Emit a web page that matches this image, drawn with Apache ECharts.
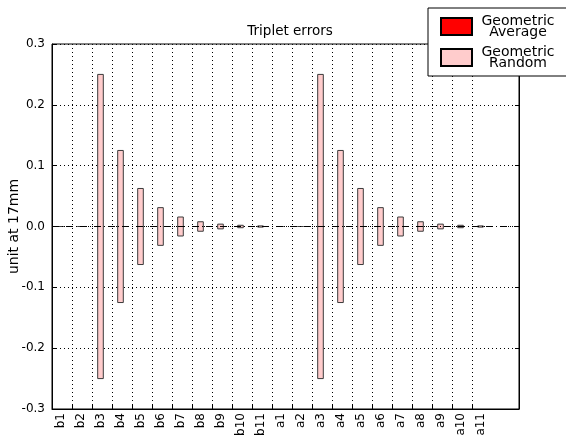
<!DOCTYPE html>
<html>
<head>
<meta charset="utf-8">
<script src="https://cdn.jsdelivr.net/npm/echarts@6/dist/echarts.min.js"></script>
<style>
  html, body { margin: 0; padding: 0; background: #fff; }
  #chart { width: 566px; height: 435px; }
</style>
</head>
<body>
<div id="chart"></div>
<script>
const categories = ['b1', 'b2', 'b3', 'b4', 'b5', 'b6', 'b7', 'b8', 'b9', 'b10', 'b11',
  'a1', 'a2', 'a3', 'a4', 'a5', 'a6', 'a7', 'a8', 'a9', 'a10', 'a11']
const geoAverage = [0, 0, 0, 0, 0, 0, 0, 0, 0, 0, 0,
  0, 0, 0, 0, 0, 0, 0, 0, 0, 0, 0]
const geoRandom = [0, 0, 0.25, 0.125, 0.0625, 0.031, 0.0156, 0.0078, 0.0039, 0.002, 0.001,
  0, 0, 0.25, 0.125, 0.0625, 0.031, 0.0156, 0.0078, 0.0039, 0.002, 0.001]
const yTicks = [-0.3, -0.2, -0.1, 0.0, 0.1, 0.2, 0.3]

const barHalf = 0.14
const font = 'DejaVu Sans'

// bar centred on its category, running from -v to +v
function renderBar(fill) {
  return function (params, api) {
    const x = api.value(0)
    const v = api.value(1)
    const p1 = api.coord([x - barHalf, v])
    const p2 = api.coord([x + barHalf, -v])
    return {
      type: 'rect',
      shape: { x: p1[0], y: p1[1], width: p2[0] - p1[0], height: p2[1] - p1[1] },
      style: { fill: fill, stroke: '#3a3a3a', lineWidth: 1 }
    }
  }
}

const idx = categories.map((c, i) => i)
// vertical grid lines sit between the bars, as in the original
const gridPos = idx.slice(0, -1).map(i => i + 0.575)

const chart = echarts.init(document.getElementById('chart'))
chart.setOption({
  animation: false,
  textStyle: { fontFamily: font },
  title: {
    text: 'Triplet errors',
    left: 285,
    textAlign: 'center',
    top: 19,
    textStyle: { fontSize: 13.5, fontWeight: 'normal', color: '#000', fontFamily: font }
  },
  legend: {
    orient: 'vertical',
    left: 428,
    top: 8,
    padding: [6, 12, 6, 12],
    itemGap: 6,
    itemWidth: 31,
    itemHeight: 17,
    icon: 'rect',
    borderColor: '#000',
    borderWidth: 1,
    backgroundColor: '#fff',
    selectedMode: false,
    // two centred lines per entry
    formatter: name => name.split(' ').map(w => '{c|' + w + '}').join('\n'),
    textStyle: {
      fontSize: 14, lineHeight: 11, color: '#000', fontFamily: font, padding: [0, 0, 0, 3],
      rich: { c: { fontSize: 14, lineHeight: 11, width: 76, align: 'center', fontFamily: font, color: '#000' } }
    },
    data: ['Geometric Average', 'Geometric Random']
  },
  grid: {
    left: 52,
    right: 47,
    top: 44,
    bottom: 26,
    outerBoundsMode: 'none',
    containLabel: false,
    show: true,
    borderColor: '#000',
    borderWidth: 1,
    backgroundColor: 'transparent'
  },
  xAxis: {
    type: 'value',
    min: -0.425,
    max: 22.925,
    axisLine: { show: true, onZero: false, lineStyle: { color: '#000' } },
    axisTick: { show: true, inside: true, length: 4, customValues: gridPos, lineStyle: { color: '#000' } },
    splitLine: { show: true, lineStyle: { color: '#000', type: [1, 3], width: 1 } },
    axisLabel: {
      customValues: idx,
      rotate: 90,
      margin: 4,
      fontSize: 12,
      color: '#000',
      fontFamily: font,
      formatter: v => categories[Math.round(v)]
    }
  },
  yAxis: [{
    type: 'value',
    min: -0.3,
    max: 0.3,
    interval: 0.1,
    name: 'unit at 17mm',
    nameLocation: 'middle',
    nameGap: 31,
    nameMoveOverlap: false,
    nameTextStyle: { fontSize: 14, color: '#000', fontFamily: font },
    axisLine: { show: true, onZero: false, lineStyle: { color: '#000' } },
    axisTick: { show: true, inside: true, length: 4, lineStyle: { color: '#000' } },
    splitLine: { show: true, lineStyle: { color: '#000', type: [1, 3], width: 1 } },
    axisLabel: {
      customValues: yTicks,
      fontSize: 12,
      color: '#000',
      margin: 7,
      fontFamily: font,
      formatter: v => v.toFixed(1)
    }
  }, {
    type: 'value',
    position: 'right',
    min: -0.3,
    max: 0.3,
    interval: 0.1,
    axisLine: { show: true, onZero: false, lineStyle: { color: '#000' } },
    axisTick: { show: true, inside: true, length: 4, lineStyle: { color: '#000' } },
    splitLine: { show: false },
    axisLabel: { show: false }
  }],
  series: [{
    name: 'Geometric Average',
    type: 'custom',
    renderItem: renderBar('#ff0000'),
    itemStyle: { color: '#ff0000', borderColor: '#000', borderWidth: 1 },
    data: geoAverage.map((v, i) => [i, v]),
    markLine: {
      silent: true,
      symbol: 'none',
      label: { show: false },
      lineStyle: { color: '#000', width: 1, type: [7, 3, 1, 3], opacity: 1 },
      data: [{ yAxis: 0 }]
    },
    z: 3
  }, {
    name: 'Geometric Random',
    type: 'custom',
    renderItem: renderBar('#ffcccc'),
    itemStyle: { color: '#ffcccc', borderColor: '#000', borderWidth: 1 },
    data: geoRandom.map((v, i) => [i, v]),
    z: 4
  }]
})
</script>
</body>
</html>
